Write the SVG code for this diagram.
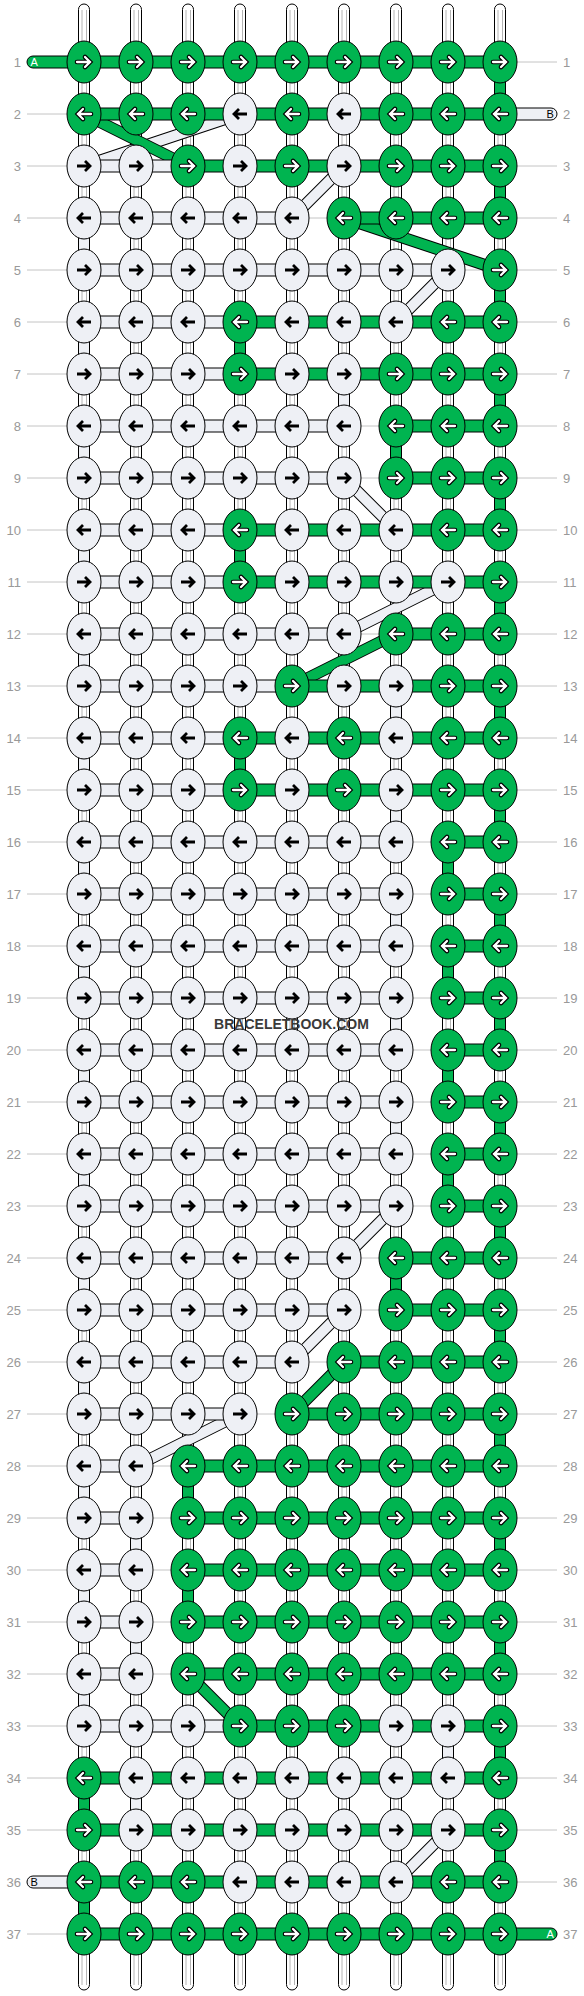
<svg xmlns="http://www.w3.org/2000/svg" xmlns:xlink="http://www.w3.org/1999/xlink" width="584" height="1996" viewBox="0 0 584 1996">
<style>
.g{fill:#00b450;stroke:#000;stroke-width:1}
.l{fill:#eef0f5;stroke:#000;stroke-width:1}
.ao{fill:none;stroke:#000;stroke-width:4.6;stroke-linecap:round}
.ai{fill:none;stroke:#fff;stroke-width:2.3;stroke-linecap:round}
.ab{fill:none;stroke:#000;stroke-width:2.8}
.rl{fill:none;stroke:#c4c4c4;stroke-width:1}
.lab{font-family:"Liberation Sans",Arial,sans-serif;font-size:13px;fill:#999}
.tube{fill:#fff;stroke:#000;stroke-width:1}
.tl{fill:none;stroke:#b4b4b4;stroke-width:1}
.do{fill:none;stroke:#000;stroke-width:12}
.dgf{fill:none;stroke:#00b450;stroke-width:10}
.dlf{fill:none;stroke:#eef0f5;stroke-width:10}
.te{font-family:"Liberation Sans",Arial,sans-serif;font-size:11px}
</style>
<defs>
<g id="GR"><ellipse rx="17" ry="21" class="g"/><path class="ao" d="M-7,0H6M1,-5L6,0L1,5"/><path class="ai" d="M-7,0H6M1,-5L6,0L1,5"/></g>
<g id="GL"><ellipse rx="17" ry="21" class="g"/><path class="ao" d="M7,0H-6M-1,-5L-6,0L-1,5"/><path class="ai" d="M7,0H-6M-1,-5L-6,0L-1,5"/></g>
<g id="LR"><ellipse rx="17" ry="21" class="l"/><path class="ab" d="M-7,0H6M1,-5L6,0L1,5"/></g>
<g id="LL"><ellipse rx="17" ry="21" class="l"/><path class="ab" d="M7,0H-6M-1,-5L-6,0L-1,5"/></g>
</defs>
<rect width="584" height="1996" fill="#fff"/>
<g id="rowlines">
<path class="rl" d="M27,62H557M27,114H557M27,166H557M27,218H557M27,270H557M27,322H557M27,374H557M27,426H557M27,478H557M27,530H557M27,582H557M27,634H557M27,686H557M27,738H557M27,790H557M27,842H557M27,894H557M27,946H557M27,998H557M27,1050H557M27,1102H557M27,1154H557M27,1206H557M27,1258H557M27,1310H557M27,1362H557M27,1414H557M27,1466H557M27,1518H557M27,1570H557M27,1622H557M27,1674H557M27,1726H557M27,1778H557M27,1830H557M27,1882H557M27,1934H557"/>
</g>
<g id="strings">
<rect class="tube" x="78.5" y="4" width="11" height="1986" rx="5.5"/>
<rect class="tube" x="130.5" y="4" width="11" height="1986" rx="5.5"/>
<rect class="tube" x="182.5" y="4" width="11" height="1986" rx="5.5"/>
<rect class="tube" x="234.5" y="4" width="11" height="1986" rx="5.5"/>
<rect class="tube" x="286.5" y="4" width="11" height="1986" rx="5.5"/>
<rect class="tube" x="338.5" y="4" width="11" height="1986" rx="5.5"/>
<rect class="tube" x="390.5" y="4" width="11" height="1986" rx="5.5"/>
<rect class="tube" x="442.5" y="4" width="11" height="1986" rx="5.5"/>
<rect class="tube" x="494.5" y="4" width="11" height="1986" rx="5.5"/>
<path class="tl" d="M82,10V1985M86.5,10V1985M134,10V1985M138.5,10V1985M186,10V1985M190.5,10V1985M238,10V1985M242.5,10V1985M290,10V1985M294.5,10V1985M342,10V1985M346.5,10V1985M394,10V1985M398.5,10V1985M446,10V1985M450.5,10V1985M498,10V1985M502.5,10V1985"/>
</g>
<g id="connectors">
<path class="do" d="M240,114L84,166M344,166L292,218M448,270L396,322M344,478L396,530M448,582L344,634M396,1206L344,1258M344,1310L292,1362M240,1414L136,1466M448,1830L396,1882"/>
<path class="dlf" d="M240,114L84,166M344,166L292,218M448,270L396,322M344,478L396,530M448,582L344,634M396,1206L344,1258M344,1310L292,1362M240,1414L136,1466M448,1830L396,1882"/>
<path class="do" d="M84,114L188,166M344,218L500,270M396,634L292,686M344,1362L292,1414M188,1674L240,1726"/>
<path class="dgf" d="M84,114L188,166M344,218L500,270M396,634L292,686M344,1362L292,1414M188,1674L240,1726"/>
<path class="g" d="M84,56h416v12h-416zM84,108h416v12h-416zM188,160h312v12h-312zM344,212h156v12h-156zM240,316h260v12h-260zM240,368h260v12h-260zM396,420h104v12h-104zM396,472h104v12h-104zM240,524h260v12h-260zM240,576h260v12h-260zM396,628h104v12h-104zM292,680h208v12h-208zM240,732h260v12h-260zM240,784h260v12h-260zM448,836h52v12h-52zM448,888h52v12h-52zM448,940h52v12h-52zM448,992h52v12h-52zM448,1044h52v12h-52zM448,1096h52v12h-52zM448,1148h52v12h-52zM448,1200h52v12h-52zM396,1252h104v12h-104zM396,1304h104v12h-104zM344,1356h156v12h-156zM292,1408h208v12h-208zM188,1460h312v12h-312zM188,1512h312v12h-312zM188,1564h312v12h-312zM188,1616h312v12h-312zM188,1668h312v12h-312zM240,1720h260v12h-260zM84,1772h416v12h-416zM84,1824h416v12h-416zM84,1876h416v12h-416zM84,1928h416v12h-416z"/>
<path class="l" d="M84,160h104v12h-104zM84,212h208v12h-208zM84,264h364v12h-364zM84,316h156v12h-156zM84,368h156v12h-156zM84,420h260v12h-260zM84,472h260v12h-260zM84,524h156v12h-156zM84,576h156v12h-156zM84,628h260v12h-260zM84,680h208v12h-208zM84,732h156v12h-156zM84,784h156v12h-156zM84,836h312v12h-312zM84,888h312v12h-312zM84,940h312v12h-312zM84,992h312v12h-312zM84,1044h312v12h-312zM84,1096h312v12h-312zM84,1148h312v12h-312zM84,1200h312v12h-312zM84,1252h260v12h-260zM84,1304h260v12h-260zM84,1356h208v12h-208zM84,1408h156v12h-156zM84,1460h52v12h-52zM84,1512h52v12h-52zM84,1564h52v12h-52zM84,1616h52v12h-52zM84,1668h52v12h-52zM84,1720h156v12h-156z"/>
<path class="g" d="M494.5,78h11v20h-11zM494.5,182h11v20h-11zM494.5,286h11v20h-11zM494.5,390h11v20h-11zM494.5,494h11v20h-11zM494.5,598h11v20h-11zM494.5,702h11v20h-11zM494.5,806h11v20h-11zM494.5,910h11v20h-11zM494.5,1014h11v20h-11zM494.5,1118h11v20h-11zM494.5,1222h11v20h-11zM494.5,1326h11v20h-11zM494.5,1430h11v20h-11zM494.5,1534h11v20h-11zM494.5,1638h11v20h-11zM494.5,1742h11v20h-11zM494.5,1846h11v20h-11zM234.5,338h11v20h-11zM234.5,546h11v20h-11zM234.5,754h11v20h-11zM390.5,442h11v20h-11zM390.5,1274h11v20h-11zM442.5,858h11v20h-11zM442.5,962h11v20h-11zM442.5,1066h11v20h-11zM442.5,1170h11v20h-11zM182.5,1482h11v20h-11zM182.5,1586h11v20h-11zM78.5,1794h11v20h-11zM78.5,1898h11v20h-11z"/>
<path class="l" d="M78.5,234h11v20h-11zM78.5,338h11v20h-11zM78.5,442h11v20h-11zM78.5,546h11v20h-11zM78.5,650h11v20h-11zM78.5,754h11v20h-11zM78.5,858h11v20h-11zM78.5,962h11v20h-11zM78.5,1066h11v20h-11zM78.5,1170h11v20h-11zM78.5,1274h11v20h-11zM78.5,1378h11v20h-11zM78.5,1482h11v20h-11zM78.5,1586h11v20h-11zM78.5,1690h11v20h-11zM338.5,390h11v20h-11zM390.5,702h11v20h-11zM390.5,806h11v20h-11zM390.5,910h11v20h-11zM390.5,1014h11v20h-11zM390.5,1118h11v20h-11zM130.5,1534h11v20h-11zM130.5,1638h11v20h-11zM130.5,1794h11v20h-11zM442.5,1742h11v20h-11z"/>
</g>
<g id="threadA1"><rect class="g" x="27" y="56" width="50" height="12" rx="6"/><text class="te" x="30.5" y="66" fill="#fff">A</text></g>
<g id="threadB2"><rect class="l" x="507" y="108" width="50" height="12" rx="6"/><text class="te" x="546.5" y="118" fill="#000">B</text></g>
<g id="threadB36"><rect class="l" x="27" y="1876" width="50" height="12" rx="6"/><text class="te" x="30.5" y="1886" fill="#000">B</text></g>
<g id="threadA37"><rect class="g" x="507" y="1928" width="50" height="12" rx="6"/><text class="te" x="546.5" y="1938" fill="#fff">A</text></g>
<g id="nodes">
<g id="n1-1"><use href="#GR" x="84" y="62"/></g><g id="n1-2"><use href="#GR" x="136" y="62"/></g><g id="n1-3"><use href="#GR" x="188" y="62"/></g><g id="n1-4"><use href="#GR" x="240" y="62"/></g><g id="n1-5"><use href="#GR" x="292" y="62"/></g><g id="n1-6"><use href="#GR" x="344" y="62"/></g><g id="n1-7"><use href="#GR" x="396" y="62"/></g><g id="n1-8"><use href="#GR" x="448" y="62"/></g><g id="n1-9"><use href="#GR" x="500" y="62"/></g>
<g id="n2-1"><use href="#GL" x="84" y="114"/></g><g id="n2-2"><use href="#GL" x="136" y="114"/></g><g id="n2-3"><use href="#GL" x="188" y="114"/></g><g id="n2-4"><use href="#LL" x="240" y="114"/></g><g id="n2-5"><use href="#GL" x="292" y="114"/></g><g id="n2-6"><use href="#LL" x="344" y="114"/></g><g id="n2-7"><use href="#GL" x="396" y="114"/></g><g id="n2-8"><use href="#GL" x="448" y="114"/></g><g id="n2-9"><use href="#GL" x="500" y="114"/></g>
<g id="n3-1"><use href="#LR" x="84" y="166"/></g><g id="n3-2"><use href="#LR" x="136" y="166"/></g><g id="n3-3"><use href="#GR" x="188" y="166"/></g><g id="n3-4"><use href="#LR" x="240" y="166"/></g><g id="n3-5"><use href="#GR" x="292" y="166"/></g><g id="n3-6"><use href="#LR" x="344" y="166"/></g><g id="n3-7"><use href="#GR" x="396" y="166"/></g><g id="n3-8"><use href="#GR" x="448" y="166"/></g><g id="n3-9"><use href="#GR" x="500" y="166"/></g>
<g id="n4-1"><use href="#LL" x="84" y="218"/></g><g id="n4-2"><use href="#LL" x="136" y="218"/></g><g id="n4-3"><use href="#LL" x="188" y="218"/></g><g id="n4-4"><use href="#LL" x="240" y="218"/></g><g id="n4-5"><use href="#LL" x="292" y="218"/></g><g id="n4-6"><use href="#GL" x="344" y="218"/></g><g id="n4-7"><use href="#GL" x="396" y="218"/></g><g id="n4-8"><use href="#GL" x="448" y="218"/></g><g id="n4-9"><use href="#GL" x="500" y="218"/></g>
<g id="n5-1"><use href="#LR" x="84" y="270"/></g><g id="n5-2"><use href="#LR" x="136" y="270"/></g><g id="n5-3"><use href="#LR" x="188" y="270"/></g><g id="n5-4"><use href="#LR" x="240" y="270"/></g><g id="n5-5"><use href="#LR" x="292" y="270"/></g><g id="n5-6"><use href="#LR" x="344" y="270"/></g><g id="n5-7"><use href="#LR" x="396" y="270"/></g><g id="n5-8"><use href="#LR" x="448" y="270"/></g><g id="n5-9"><use href="#GR" x="500" y="270"/></g>
<g id="n6-1"><use href="#LL" x="84" y="322"/></g><g id="n6-2"><use href="#LL" x="136" y="322"/></g><g id="n6-3"><use href="#LL" x="188" y="322"/></g><g id="n6-4"><use href="#GL" x="240" y="322"/></g><g id="n6-5"><use href="#LL" x="292" y="322"/></g><g id="n6-6"><use href="#LL" x="344" y="322"/></g><g id="n6-7"><use href="#LL" x="396" y="322"/></g><g id="n6-8"><use href="#GL" x="448" y="322"/></g><g id="n6-9"><use href="#GL" x="500" y="322"/></g>
<g id="n7-1"><use href="#LR" x="84" y="374"/></g><g id="n7-2"><use href="#LR" x="136" y="374"/></g><g id="n7-3"><use href="#LR" x="188" y="374"/></g><g id="n7-4"><use href="#GR" x="240" y="374"/></g><g id="n7-5"><use href="#LR" x="292" y="374"/></g><g id="n7-6"><use href="#LR" x="344" y="374"/></g><g id="n7-7"><use href="#GR" x="396" y="374"/></g><g id="n7-8"><use href="#GR" x="448" y="374"/></g><g id="n7-9"><use href="#GR" x="500" y="374"/></g>
<g id="n8-1"><use href="#LL" x="84" y="426"/></g><g id="n8-2"><use href="#LL" x="136" y="426"/></g><g id="n8-3"><use href="#LL" x="188" y="426"/></g><g id="n8-4"><use href="#LL" x="240" y="426"/></g><g id="n8-5"><use href="#LL" x="292" y="426"/></g><g id="n8-6"><use href="#LL" x="344" y="426"/></g><g id="n8-7"><use href="#GL" x="396" y="426"/></g><g id="n8-8"><use href="#GL" x="448" y="426"/></g><g id="n8-9"><use href="#GL" x="500" y="426"/></g>
<g id="n9-1"><use href="#LR" x="84" y="478"/></g><g id="n9-2"><use href="#LR" x="136" y="478"/></g><g id="n9-3"><use href="#LR" x="188" y="478"/></g><g id="n9-4"><use href="#LR" x="240" y="478"/></g><g id="n9-5"><use href="#LR" x="292" y="478"/></g><g id="n9-6"><use href="#LR" x="344" y="478"/></g><g id="n9-7"><use href="#GR" x="396" y="478"/></g><g id="n9-8"><use href="#GR" x="448" y="478"/></g><g id="n9-9"><use href="#GR" x="500" y="478"/></g>
<g id="n10-1"><use href="#LL" x="84" y="530"/></g><g id="n10-2"><use href="#LL" x="136" y="530"/></g><g id="n10-3"><use href="#LL" x="188" y="530"/></g><g id="n10-4"><use href="#GL" x="240" y="530"/></g><g id="n10-5"><use href="#LL" x="292" y="530"/></g><g id="n10-6"><use href="#LL" x="344" y="530"/></g><g id="n10-7"><use href="#LL" x="396" y="530"/></g><g id="n10-8"><use href="#GL" x="448" y="530"/></g><g id="n10-9"><use href="#GL" x="500" y="530"/></g>
<g id="n11-1"><use href="#LR" x="84" y="582"/></g><g id="n11-2"><use href="#LR" x="136" y="582"/></g><g id="n11-3"><use href="#LR" x="188" y="582"/></g><g id="n11-4"><use href="#GR" x="240" y="582"/></g><g id="n11-5"><use href="#LR" x="292" y="582"/></g><g id="n11-6"><use href="#LR" x="344" y="582"/></g><g id="n11-7"><use href="#LR" x="396" y="582"/></g><g id="n11-8"><use href="#LR" x="448" y="582"/></g><g id="n11-9"><use href="#GR" x="500" y="582"/></g>
<g id="n12-1"><use href="#LL" x="84" y="634"/></g><g id="n12-2"><use href="#LL" x="136" y="634"/></g><g id="n12-3"><use href="#LL" x="188" y="634"/></g><g id="n12-4"><use href="#LL" x="240" y="634"/></g><g id="n12-5"><use href="#LL" x="292" y="634"/></g><g id="n12-6"><use href="#LL" x="344" y="634"/></g><g id="n12-7"><use href="#GL" x="396" y="634"/></g><g id="n12-8"><use href="#GL" x="448" y="634"/></g><g id="n12-9"><use href="#GL" x="500" y="634"/></g>
<g id="n13-1"><use href="#LR" x="84" y="686"/></g><g id="n13-2"><use href="#LR" x="136" y="686"/></g><g id="n13-3"><use href="#LR" x="188" y="686"/></g><g id="n13-4"><use href="#LR" x="240" y="686"/></g><g id="n13-5"><use href="#GR" x="292" y="686"/></g><g id="n13-6"><use href="#LR" x="344" y="686"/></g><g id="n13-7"><use href="#LR" x="396" y="686"/></g><g id="n13-8"><use href="#GR" x="448" y="686"/></g><g id="n13-9"><use href="#GR" x="500" y="686"/></g>
<g id="n14-1"><use href="#LL" x="84" y="738"/></g><g id="n14-2"><use href="#LL" x="136" y="738"/></g><g id="n14-3"><use href="#LL" x="188" y="738"/></g><g id="n14-4"><use href="#GL" x="240" y="738"/></g><g id="n14-5"><use href="#LL" x="292" y="738"/></g><g id="n14-6"><use href="#GL" x="344" y="738"/></g><g id="n14-7"><use href="#LL" x="396" y="738"/></g><g id="n14-8"><use href="#GL" x="448" y="738"/></g><g id="n14-9"><use href="#GL" x="500" y="738"/></g>
<g id="n15-1"><use href="#LR" x="84" y="790"/></g><g id="n15-2"><use href="#LR" x="136" y="790"/></g><g id="n15-3"><use href="#LR" x="188" y="790"/></g><g id="n15-4"><use href="#GR" x="240" y="790"/></g><g id="n15-5"><use href="#LR" x="292" y="790"/></g><g id="n15-6"><use href="#GR" x="344" y="790"/></g><g id="n15-7"><use href="#LR" x="396" y="790"/></g><g id="n15-8"><use href="#GR" x="448" y="790"/></g><g id="n15-9"><use href="#GR" x="500" y="790"/></g>
<g id="n16-1"><use href="#LL" x="84" y="842"/></g><g id="n16-2"><use href="#LL" x="136" y="842"/></g><g id="n16-3"><use href="#LL" x="188" y="842"/></g><g id="n16-4"><use href="#LL" x="240" y="842"/></g><g id="n16-5"><use href="#LL" x="292" y="842"/></g><g id="n16-6"><use href="#LL" x="344" y="842"/></g><g id="n16-7"><use href="#LL" x="396" y="842"/></g><g id="n16-8"><use href="#GL" x="448" y="842"/></g><g id="n16-9"><use href="#GL" x="500" y="842"/></g>
<g id="n17-1"><use href="#LR" x="84" y="894"/></g><g id="n17-2"><use href="#LR" x="136" y="894"/></g><g id="n17-3"><use href="#LR" x="188" y="894"/></g><g id="n17-4"><use href="#LR" x="240" y="894"/></g><g id="n17-5"><use href="#LR" x="292" y="894"/></g><g id="n17-6"><use href="#LR" x="344" y="894"/></g><g id="n17-7"><use href="#LR" x="396" y="894"/></g><g id="n17-8"><use href="#GR" x="448" y="894"/></g><g id="n17-9"><use href="#GR" x="500" y="894"/></g>
<g id="n18-1"><use href="#LL" x="84" y="946"/></g><g id="n18-2"><use href="#LL" x="136" y="946"/></g><g id="n18-3"><use href="#LL" x="188" y="946"/></g><g id="n18-4"><use href="#LL" x="240" y="946"/></g><g id="n18-5"><use href="#LL" x="292" y="946"/></g><g id="n18-6"><use href="#LL" x="344" y="946"/></g><g id="n18-7"><use href="#LL" x="396" y="946"/></g><g id="n18-8"><use href="#GL" x="448" y="946"/></g><g id="n18-9"><use href="#GL" x="500" y="946"/></g>
<g id="n19-1"><use href="#LR" x="84" y="998"/></g><g id="n19-2"><use href="#LR" x="136" y="998"/></g><g id="n19-3"><use href="#LR" x="188" y="998"/></g><g id="n19-4"><use href="#LR" x="240" y="998"/></g><g id="n19-5"><use href="#LR" x="292" y="998"/></g><g id="n19-6"><use href="#LR" x="344" y="998"/></g><g id="n19-7"><use href="#LR" x="396" y="998"/></g><g id="n19-8"><use href="#GR" x="448" y="998"/></g><g id="n19-9"><use href="#GR" x="500" y="998"/></g>
<g id="n20-1"><use href="#LL" x="84" y="1050"/></g><g id="n20-2"><use href="#LL" x="136" y="1050"/></g><g id="n20-3"><use href="#LL" x="188" y="1050"/></g><g id="n20-4"><use href="#LL" x="240" y="1050"/></g><g id="n20-5"><use href="#LL" x="292" y="1050"/></g><g id="n20-6"><use href="#LL" x="344" y="1050"/></g><g id="n20-7"><use href="#LL" x="396" y="1050"/></g><g id="n20-8"><use href="#GL" x="448" y="1050"/></g><g id="n20-9"><use href="#GL" x="500" y="1050"/></g>
<g id="n21-1"><use href="#LR" x="84" y="1102"/></g><g id="n21-2"><use href="#LR" x="136" y="1102"/></g><g id="n21-3"><use href="#LR" x="188" y="1102"/></g><g id="n21-4"><use href="#LR" x="240" y="1102"/></g><g id="n21-5"><use href="#LR" x="292" y="1102"/></g><g id="n21-6"><use href="#LR" x="344" y="1102"/></g><g id="n21-7"><use href="#LR" x="396" y="1102"/></g><g id="n21-8"><use href="#GR" x="448" y="1102"/></g><g id="n21-9"><use href="#GR" x="500" y="1102"/></g>
<g id="n22-1"><use href="#LL" x="84" y="1154"/></g><g id="n22-2"><use href="#LL" x="136" y="1154"/></g><g id="n22-3"><use href="#LL" x="188" y="1154"/></g><g id="n22-4"><use href="#LL" x="240" y="1154"/></g><g id="n22-5"><use href="#LL" x="292" y="1154"/></g><g id="n22-6"><use href="#LL" x="344" y="1154"/></g><g id="n22-7"><use href="#LL" x="396" y="1154"/></g><g id="n22-8"><use href="#GL" x="448" y="1154"/></g><g id="n22-9"><use href="#GL" x="500" y="1154"/></g>
<g id="n23-1"><use href="#LR" x="84" y="1206"/></g><g id="n23-2"><use href="#LR" x="136" y="1206"/></g><g id="n23-3"><use href="#LR" x="188" y="1206"/></g><g id="n23-4"><use href="#LR" x="240" y="1206"/></g><g id="n23-5"><use href="#LR" x="292" y="1206"/></g><g id="n23-6"><use href="#LR" x="344" y="1206"/></g><g id="n23-7"><use href="#LR" x="396" y="1206"/></g><g id="n23-8"><use href="#GR" x="448" y="1206"/></g><g id="n23-9"><use href="#GR" x="500" y="1206"/></g>
<g id="n24-1"><use href="#LL" x="84" y="1258"/></g><g id="n24-2"><use href="#LL" x="136" y="1258"/></g><g id="n24-3"><use href="#LL" x="188" y="1258"/></g><g id="n24-4"><use href="#LL" x="240" y="1258"/></g><g id="n24-5"><use href="#LL" x="292" y="1258"/></g><g id="n24-6"><use href="#LL" x="344" y="1258"/></g><g id="n24-7"><use href="#GL" x="396" y="1258"/></g><g id="n24-8"><use href="#GL" x="448" y="1258"/></g><g id="n24-9"><use href="#GL" x="500" y="1258"/></g>
<g id="n25-1"><use href="#LR" x="84" y="1310"/></g><g id="n25-2"><use href="#LR" x="136" y="1310"/></g><g id="n25-3"><use href="#LR" x="188" y="1310"/></g><g id="n25-4"><use href="#LR" x="240" y="1310"/></g><g id="n25-5"><use href="#LR" x="292" y="1310"/></g><g id="n25-6"><use href="#LR" x="344" y="1310"/></g><g id="n25-7"><use href="#GR" x="396" y="1310"/></g><g id="n25-8"><use href="#GR" x="448" y="1310"/></g><g id="n25-9"><use href="#GR" x="500" y="1310"/></g>
<g id="n26-1"><use href="#LL" x="84" y="1362"/></g><g id="n26-2"><use href="#LL" x="136" y="1362"/></g><g id="n26-3"><use href="#LL" x="188" y="1362"/></g><g id="n26-4"><use href="#LL" x="240" y="1362"/></g><g id="n26-5"><use href="#LL" x="292" y="1362"/></g><g id="n26-6"><use href="#GL" x="344" y="1362"/></g><g id="n26-7"><use href="#GL" x="396" y="1362"/></g><g id="n26-8"><use href="#GL" x="448" y="1362"/></g><g id="n26-9"><use href="#GL" x="500" y="1362"/></g>
<g id="n27-1"><use href="#LR" x="84" y="1414"/></g><g id="n27-2"><use href="#LR" x="136" y="1414"/></g><g id="n27-3"><use href="#LR" x="188" y="1414"/></g><g id="n27-4"><use href="#LR" x="240" y="1414"/></g><g id="n27-5"><use href="#GR" x="292" y="1414"/></g><g id="n27-6"><use href="#GR" x="344" y="1414"/></g><g id="n27-7"><use href="#GR" x="396" y="1414"/></g><g id="n27-8"><use href="#GR" x="448" y="1414"/></g><g id="n27-9"><use href="#GR" x="500" y="1414"/></g>
<g id="n28-1"><use href="#LL" x="84" y="1466"/></g><g id="n28-2"><use href="#LL" x="136" y="1466"/></g><g id="n28-3"><use href="#GL" x="188" y="1466"/></g><g id="n28-4"><use href="#GL" x="240" y="1466"/></g><g id="n28-5"><use href="#GL" x="292" y="1466"/></g><g id="n28-6"><use href="#GL" x="344" y="1466"/></g><g id="n28-7"><use href="#GL" x="396" y="1466"/></g><g id="n28-8"><use href="#GL" x="448" y="1466"/></g><g id="n28-9"><use href="#GL" x="500" y="1466"/></g>
<g id="n29-1"><use href="#LR" x="84" y="1518"/></g><g id="n29-2"><use href="#LR" x="136" y="1518"/></g><g id="n29-3"><use href="#GR" x="188" y="1518"/></g><g id="n29-4"><use href="#GR" x="240" y="1518"/></g><g id="n29-5"><use href="#GR" x="292" y="1518"/></g><g id="n29-6"><use href="#GR" x="344" y="1518"/></g><g id="n29-7"><use href="#GR" x="396" y="1518"/></g><g id="n29-8"><use href="#GR" x="448" y="1518"/></g><g id="n29-9"><use href="#GR" x="500" y="1518"/></g>
<g id="n30-1"><use href="#LL" x="84" y="1570"/></g><g id="n30-2"><use href="#LL" x="136" y="1570"/></g><g id="n30-3"><use href="#GL" x="188" y="1570"/></g><g id="n30-4"><use href="#GL" x="240" y="1570"/></g><g id="n30-5"><use href="#GL" x="292" y="1570"/></g><g id="n30-6"><use href="#GL" x="344" y="1570"/></g><g id="n30-7"><use href="#GL" x="396" y="1570"/></g><g id="n30-8"><use href="#GL" x="448" y="1570"/></g><g id="n30-9"><use href="#GL" x="500" y="1570"/></g>
<g id="n31-1"><use href="#LR" x="84" y="1622"/></g><g id="n31-2"><use href="#LR" x="136" y="1622"/></g><g id="n31-3"><use href="#GR" x="188" y="1622"/></g><g id="n31-4"><use href="#GR" x="240" y="1622"/></g><g id="n31-5"><use href="#GR" x="292" y="1622"/></g><g id="n31-6"><use href="#GR" x="344" y="1622"/></g><g id="n31-7"><use href="#GR" x="396" y="1622"/></g><g id="n31-8"><use href="#GR" x="448" y="1622"/></g><g id="n31-9"><use href="#GR" x="500" y="1622"/></g>
<g id="n32-1"><use href="#LL" x="84" y="1674"/></g><g id="n32-2"><use href="#LL" x="136" y="1674"/></g><g id="n32-3"><use href="#GL" x="188" y="1674"/></g><g id="n32-4"><use href="#GL" x="240" y="1674"/></g><g id="n32-5"><use href="#GL" x="292" y="1674"/></g><g id="n32-6"><use href="#GL" x="344" y="1674"/></g><g id="n32-7"><use href="#GL" x="396" y="1674"/></g><g id="n32-8"><use href="#GL" x="448" y="1674"/></g><g id="n32-9"><use href="#GL" x="500" y="1674"/></g>
<g id="n33-1"><use href="#LR" x="84" y="1726"/></g><g id="n33-2"><use href="#LR" x="136" y="1726"/></g><g id="n33-3"><use href="#LR" x="188" y="1726"/></g><g id="n33-4"><use href="#GR" x="240" y="1726"/></g><g id="n33-5"><use href="#GR" x="292" y="1726"/></g><g id="n33-6"><use href="#GR" x="344" y="1726"/></g><g id="n33-7"><use href="#LR" x="396" y="1726"/></g><g id="n33-8"><use href="#LR" x="448" y="1726"/></g><g id="n33-9"><use href="#GR" x="500" y="1726"/></g>
<g id="n34-1"><use href="#GL" x="84" y="1778"/></g><g id="n34-2"><use href="#LL" x="136" y="1778"/></g><g id="n34-3"><use href="#LL" x="188" y="1778"/></g><g id="n34-4"><use href="#LL" x="240" y="1778"/></g><g id="n34-5"><use href="#LL" x="292" y="1778"/></g><g id="n34-6"><use href="#LL" x="344" y="1778"/></g><g id="n34-7"><use href="#LL" x="396" y="1778"/></g><g id="n34-8"><use href="#LL" x="448" y="1778"/></g><g id="n34-9"><use href="#GL" x="500" y="1778"/></g>
<g id="n35-1"><use href="#GR" x="84" y="1830"/></g><g id="n35-2"><use href="#LR" x="136" y="1830"/></g><g id="n35-3"><use href="#LR" x="188" y="1830"/></g><g id="n35-4"><use href="#LR" x="240" y="1830"/></g><g id="n35-5"><use href="#LR" x="292" y="1830"/></g><g id="n35-6"><use href="#LR" x="344" y="1830"/></g><g id="n35-7"><use href="#LR" x="396" y="1830"/></g><g id="n35-8"><use href="#LR" x="448" y="1830"/></g><g id="n35-9"><use href="#GR" x="500" y="1830"/></g>
<g id="n36-1"><use href="#GL" x="84" y="1882"/></g><g id="n36-2"><use href="#GL" x="136" y="1882"/></g><g id="n36-3"><use href="#GL" x="188" y="1882"/></g><g id="n36-4"><use href="#LL" x="240" y="1882"/></g><g id="n36-5"><use href="#LL" x="292" y="1882"/></g><g id="n36-6"><use href="#LL" x="344" y="1882"/></g><g id="n36-7"><use href="#LL" x="396" y="1882"/></g><g id="n36-8"><use href="#GL" x="448" y="1882"/></g><g id="n36-9"><use href="#GL" x="500" y="1882"/></g>
<g id="n37-1"><use href="#GR" x="84" y="1934"/></g><g id="n37-2"><use href="#GR" x="136" y="1934"/></g><g id="n37-3"><use href="#GR" x="188" y="1934"/></g><g id="n37-4"><use href="#GR" x="240" y="1934"/></g><g id="n37-5"><use href="#GR" x="292" y="1934"/></g><g id="n37-6"><use href="#GR" x="344" y="1934"/></g><g id="n37-7"><use href="#GR" x="396" y="1934"/></g><g id="n37-8"><use href="#GR" x="448" y="1934"/></g><g id="n37-9"><use href="#GR" x="500" y="1934"/></g>
</g>
<g id="labels-left" class="lab" text-anchor="end">
<text x="21" y="66.5">1</text><text x="21" y="118.5">2</text><text x="21" y="170.5">3</text><text x="21" y="222.5">4</text><text x="21" y="274.5">5</text><text x="21" y="326.5">6</text><text x="21" y="378.5">7</text><text x="21" y="430.5">8</text><text x="21" y="482.5">9</text><text x="21" y="534.5">10</text><text x="21" y="586.5">11</text><text x="21" y="638.5">12</text><text x="21" y="690.5">13</text><text x="21" y="742.5">14</text><text x="21" y="794.5">15</text><text x="21" y="846.5">16</text><text x="21" y="898.5">17</text><text x="21" y="950.5">18</text><text x="21" y="1002.5">19</text><text x="21" y="1054.5">20</text><text x="21" y="1106.5">21</text><text x="21" y="1158.5">22</text><text x="21" y="1210.5">23</text><text x="21" y="1262.5">24</text><text x="21" y="1314.5">25</text><text x="21" y="1366.5">26</text><text x="21" y="1418.5">27</text><text x="21" y="1470.5">28</text><text x="21" y="1522.5">29</text><text x="21" y="1574.5">30</text><text x="21" y="1626.5">31</text><text x="21" y="1678.5">32</text><text x="21" y="1730.5">33</text><text x="21" y="1782.5">34</text><text x="21" y="1834.5">35</text><text x="21" y="1886.5">36</text><text x="21" y="1938.5">37</text>
</g>
<g id="labels-right" class="lab">
<text x="563" y="66.5">1</text><text x="563" y="118.5">2</text><text x="563" y="170.5">3</text><text x="563" y="222.5">4</text><text x="563" y="274.5">5</text><text x="563" y="326.5">6</text><text x="563" y="378.5">7</text><text x="563" y="430.5">8</text><text x="563" y="482.5">9</text><text x="563" y="534.5">10</text><text x="563" y="586.5">11</text><text x="563" y="638.5">12</text><text x="563" y="690.5">13</text><text x="563" y="742.5">14</text><text x="563" y="794.5">15</text><text x="563" y="846.5">16</text><text x="563" y="898.5">17</text><text x="563" y="950.5">18</text><text x="563" y="1002.5">19</text><text x="563" y="1054.5">20</text><text x="563" y="1106.5">21</text><text x="563" y="1158.5">22</text><text x="563" y="1210.5">23</text><text x="563" y="1262.5">24</text><text x="563" y="1314.5">25</text><text x="563" y="1366.5">26</text><text x="563" y="1418.5">27</text><text x="563" y="1470.5">28</text><text x="563" y="1522.5">29</text><text x="563" y="1574.5">30</text><text x="563" y="1626.5">31</text><text x="563" y="1678.5">32</text><text x="563" y="1730.5">33</text><text x="563" y="1782.5">34</text><text x="563" y="1834.5">35</text><text x="563" y="1886.5">36</text><text x="563" y="1938.5">37</text>
</g>
<text id="watermark" x="291.5" y="1029" text-anchor="middle" font-family="'Liberation Sans',Arial,sans-serif" font-weight="bold" font-size="14" fill="#3a3a3a">BRACELETBOOK.COM</text>
</svg>
